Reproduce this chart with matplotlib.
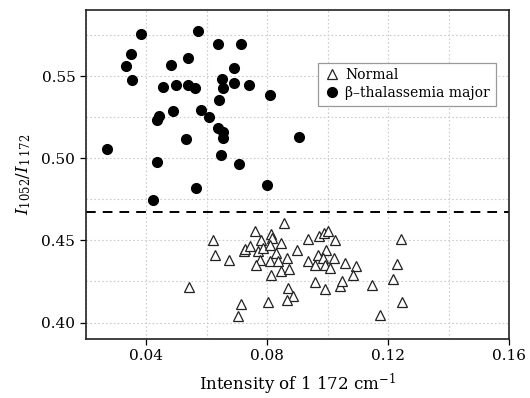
import numpy as np
import matplotlib
matplotlib.use("Agg")
import matplotlib.pyplot as plt
from matplotlib.ticker import MultipleLocator

plt.rcParams["font.family"] = ["DejaVu Serif"]
plt.rcParams["mathtext.fontset"] = "dejavuserif"

# beta-thalassemia major (filled circles)
thal_x = [0.0270, 0.0333, 0.0349, 0.0354, 0.0383, 0.0422, 0.0435, 0.0435, 0.0441,
          0.0457, 0.0483, 0.0489, 0.0498, 0.0533, 0.0538, 0.0539, 0.0560, 0.0565,
          0.0571, 0.0580, 0.0609, 0.0636, 0.0640, 0.0638, 0.0646, 0.0652, 0.0653,
          0.0655, 0.0655, 0.0691, 0.0691, 0.0708, 0.0715, 0.0740, 0.0800, 0.0809,
          0.0907]
thal_y = [0.5059, 0.5560, 0.5635, 0.5479, 0.5753, 0.4748, 0.4980, 0.5235, 0.5255,
          0.5434, 0.5566, 0.5286, 0.5448, 0.5114, 0.5611, 0.5448, 0.5426, 0.4821,
          0.5777, 0.5294, 0.5249, 0.5696, 0.5353, 0.5182, 0.5022, 0.5485, 0.5428,
          0.5158, 0.5124, 0.5546, 0.5459, 0.4967, 0.5696, 0.5444, 0.4840, 0.5387,
          0.5130]

# normal (open triangles)
norm_x = [0.0540, 0.0622, 0.0629, 0.0673, 0.0712, 0.0705, 0.0761, 0.0722, 0.0728,
          0.0744, 0.0769, 0.0781, 0.0775, 0.0764, 0.0785, 0.0804, 0.0813, 0.0817,
          0.0811, 0.0808, 0.0830, 0.0846, 0.0835, 0.0814, 0.0846, 0.0856, 0.0866,
          0.0874, 0.0870, 0.0885, 0.0865, 0.0900, 0.0935, 0.0935, 0.0960, 0.0960,
          0.0969, 0.0973, 0.0987, 0.1001, 0.0996, 0.0984, 0.0990, 0.1007, 0.0992,
          0.1023, 0.1021, 0.1040, 0.1049, 0.1059, 0.1093, 0.1084, 0.1148, 0.1172,
          0.1242, 0.1231, 0.1216, 0.1246]
norm_y = [0.4217, 0.4501, 0.4412, 0.4379, 0.4113, 0.4042, 0.4558, 0.4434, 0.4448,
          0.4464, 0.4434, 0.4505, 0.4383, 0.4353, 0.4454, 0.4123, 0.4541, 0.4515,
          0.4474, 0.4373, 0.4424, 0.4485, 0.4373, 0.4288, 0.4312, 0.4607, 0.4393,
          0.4327, 0.4208, 0.4160, 0.4135, 0.4444, 0.4509, 0.4373, 0.4353, 0.4247,
          0.4414, 0.4525, 0.4546, 0.4555, 0.4444, 0.4393, 0.4353, 0.4333, 0.4207,
          0.4501, 0.4393, 0.4221, 0.4251, 0.4363, 0.4347, 0.4292, 0.4231, 0.4048,
          0.4509, 0.4357, 0.4268, 0.4123]

threshold = 0.467

fig = plt.figure(figsize=(5.3, 3.98), dpi=100)
ax = fig.add_axes([0.1617, 0.1482, 0.7987, 0.8259])

ax.plot(norm_x, norm_y, "^", ms=7.5, mfc="white", mec="#222222", mew=0.9,
        linestyle="none", label="Normal")
ax.plot(thal_x, thal_y, "o", ms=7, color="black", linestyle="none",
        label="β–thalassemia major")
ax.axhline(threshold, color="black", lw=1.4, dashes=(5, 3.6))

ax.set_xlim(0.02, 0.16)
ax.set_ylim(0.39, 0.59)
ax.xaxis.set_minor_locator(MultipleLocator(0.02))
ax.yaxis.set_minor_locator(MultipleLocator(0.025))
ax.set_xticks([0.04, 0.08, 0.12, 0.16])
ax.set_xticklabels(["0.04", "0.08", "0.12", "0.16"])
ax.set_yticks([0.40, 0.45, 0.50, 0.55])
ax.set_yticklabels(["0.40", "0.45", "0.50", "0.55"])
ax.tick_params(which="major", direction="out", length=4, width=0.9, labelsize=11)
ax.tick_params(which="minor", length=0)
ax.grid(which="both", linestyle=(0, (1.5, 2)), color="#cccccc", lw=0.8)
ax.set_axisbelow(True)
for s in ax.spines.values():
    s.set_linewidth(1.2)
    s.set_color("#222222")

ax.set_xlabel("Intensity of 1 172 cm$^{-1}$", fontsize=12, labelpad=6)
ax.set_ylabel(r"$I_{1052}/I_{1\,172}$", fontsize=12, labelpad=6)

leg = ax.legend(loc="upper right", bbox_to_anchor=(0.985, 0.862), fontsize=10,
                fancybox=False, edgecolor="#999999", framealpha=1,
                handletextpad=0.4, borderpad=0.4, labelspacing=0.3,
                handlelength=1.2)
leg.get_frame().set_linewidth(0.9)

fig.savefig("out.png", dpi=100)
